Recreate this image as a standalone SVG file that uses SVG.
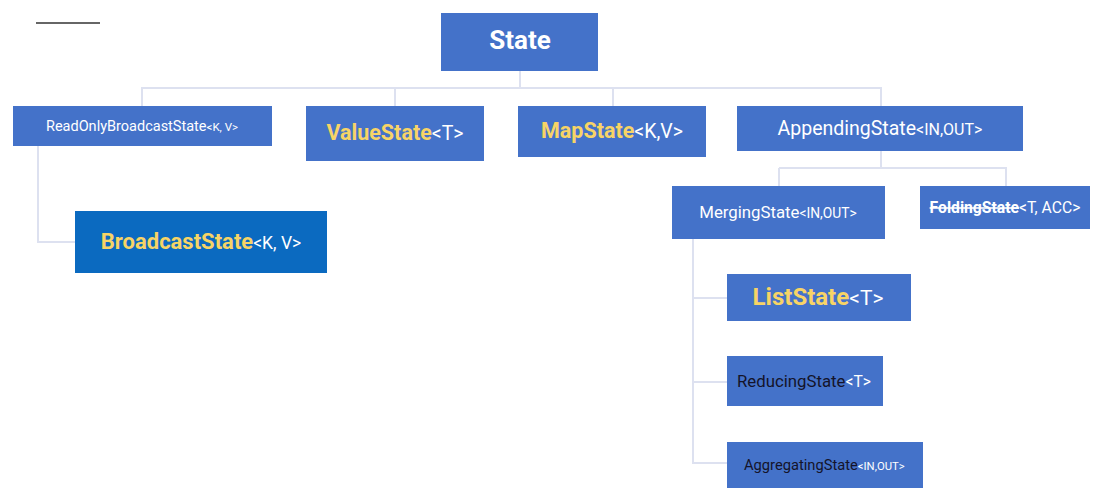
<svg xmlns="http://www.w3.org/2000/svg" width="1107" height="502" viewBox="0 0 1107 502">
<style>
.box{fill:#4472c9}
.dark{fill:#0b6ac0}
.con{stroke:#dde1f0;stroke-width:2;fill:none}
text{font-family:Roboto,"Liberation Sans",sans-serif;fill:#ffffff}
.y{fill:#f7d466;font-weight:bold}
.k{fill:#14142a}
</style>
<rect width="1107" height="502" fill="#ffffff"/>
<line x1="36" y1="23" x2="100" y2="23" stroke="#333333" stroke-width="1.5"/>
<g id="connectors">
<path class="con" d="M520 71V88M142 106V88H881V106M395 88V106M613 88V106"/>
<path class="con" d="M38 146V242H75"/>
<path class="con" d="M881 151V168M779 168H1006V186M779 168V186"/>
<path class="con" d="M693 239V463H727M693 298H727M693 382H727"/>
</g>
<g id="state"><rect class="box" x="441" y="13" width="157" height="58"/>
<text x="520" y="49" text-anchor="middle" font-size="26" font-weight="bold">State</text></g>
<g id="readonly"><rect class="box" x="13" y="106" width="259" height="40"/>
<text x="142" y="131" text-anchor="middle" font-size="14.5">ReadOnlyBroadcastState<tspan font-size="11.5">&lt;K, V&gt;</tspan></text></g>
<g id="valuestate"><rect class="box" x="306" y="106" width="178" height="55"/>
<text x="395" y="140" text-anchor="middle" font-size="19.5"><tspan class="y" font-size="21.5">ValueState</tspan>&lt;T&gt;</text></g>
<g id="mapstate"><rect class="box" x="518" y="106" width="188" height="51"/>
<text x="612" y="138" text-anchor="middle" font-size="19.5"><tspan class="y" font-size="21.5">MapState</tspan>&lt;K,V&gt;</text></g>
<g id="appending"><rect class="box" x="737" y="106" width="286" height="45"/>
<text x="880" y="135" text-anchor="middle" font-size="19.5">AppendingState<tspan font-size="16">&lt;IN,OUT&gt;</tspan></text></g>
<g id="broadcast"><rect class="dark" x="75" y="211" width="252" height="62"/>
<text x="201" y="249" text-anchor="middle" font-size="17.5"><tspan class="y" font-size="22">BroadcastState</tspan>&lt;K, V&gt;</text></g>
<g id="merging"><rect class="box" x="672" y="186" width="213" height="53"/>
<text x="778" y="218" text-anchor="middle" font-size="16.8">MergingState<tspan font-size="13.8">&lt;IN,OUT&gt;</tspan></text></g>
<g id="folding"><rect class="box" x="920" y="186" width="170" height="43"/>
<text x="1005" y="213" text-anchor="middle" font-size="15.7"><tspan font-weight="bold" text-decoration="line-through">FoldingState</tspan>&lt;T, ACC&gt;</text></g>
<g id="liststate"><rect class="box" x="727" y="274" width="184" height="47"/>
<text x="818" y="305" text-anchor="middle" font-size="21"><tspan class="y" font-size="24">ListState</tspan>&lt;T&gt;</text></g>
<g id="reducing"><rect class="box" x="727" y="356" width="156" height="50"/>
<text x="737" y="387" font-size="15.6"><tspan class="k" font-size="16.8">ReducingState</tspan>&lt;T&gt;</text></g>
<g id="aggregating"><rect class="box" x="727" y="442" width="196" height="46"/>
<text x="744" y="470" font-size="11.3"><tspan class="k" font-size="14.7">AggregatingState</tspan>&lt;IN,OUT&gt;</text></g>
</svg>
